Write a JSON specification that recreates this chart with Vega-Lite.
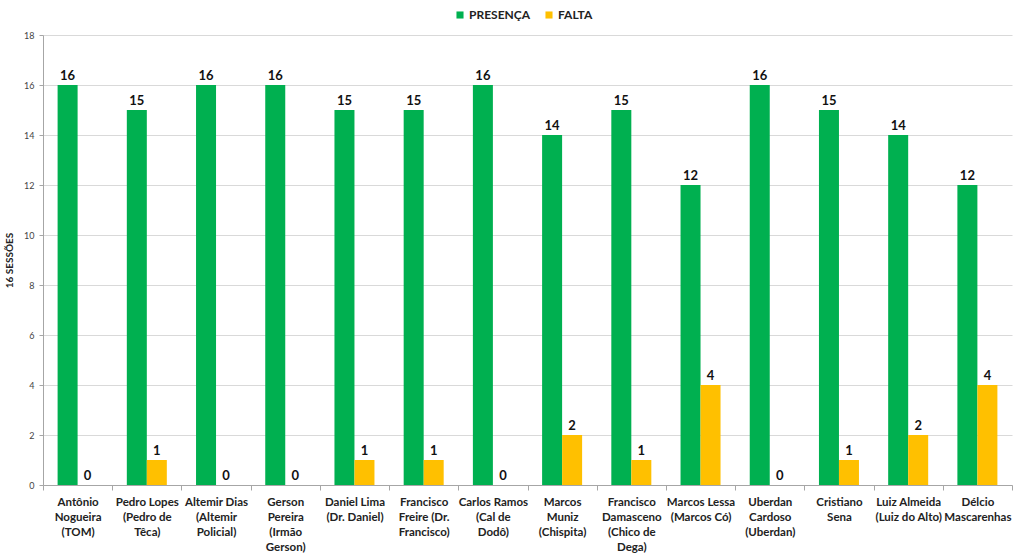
{
  "$schema": "https://vega.github.io/schema/vega-lite/v6.json",
  "width": 969,
  "height": 450,
  "autosize": {"type": "none"},
  "padding": {"left": 43, "top": 35, "right": 11, "bottom": 75},
  "background": "white",
  "config": {
    "view": {"stroke": null},
    "font": "Lato"
  },
  "data": {
    "values": [
      {"nome": "Antônio|Nogueira|(TOM)", "tipo": "PRESENÇA", "valor": 16},
      {"nome": "Antônio|Nogueira|(TOM)", "tipo": "FALTA", "valor": 0},
      {"nome": "Pedro Lopes|(Pedro de|Têca)", "tipo": "PRESENÇA", "valor": 15},
      {"nome": "Pedro Lopes|(Pedro de|Têca)", "tipo": "FALTA", "valor": 1},
      {"nome": "Altemir Dias|(Altemir|Policial)", "tipo": "PRESENÇA", "valor": 16},
      {"nome": "Altemir Dias|(Altemir|Policial)", "tipo": "FALTA", "valor": 0},
      {"nome": "Gerson|Pereira|(Irmão|Gerson)", "tipo": "PRESENÇA", "valor": 16},
      {"nome": "Gerson|Pereira|(Irmão|Gerson)", "tipo": "FALTA", "valor": 0},
      {"nome": "Daniel Lima|(Dr. Daniel)", "tipo": "PRESENÇA", "valor": 15},
      {"nome": "Daniel Lima|(Dr. Daniel)", "tipo": "FALTA", "valor": 1},
      {"nome": "Francisco|Freire (Dr.|Francisco)", "tipo": "PRESENÇA", "valor": 15},
      {"nome": "Francisco|Freire (Dr.|Francisco)", "tipo": "FALTA", "valor": 1},
      {"nome": "Carlos Ramos|(Cal de|Dodô)", "tipo": "PRESENÇA", "valor": 16},
      {"nome": "Carlos Ramos|(Cal de|Dodô)", "tipo": "FALTA", "valor": 0},
      {"nome": "Marcos|Muniz|(Chispita)", "tipo": "PRESENÇA", "valor": 14},
      {"nome": "Marcos|Muniz|(Chispita)", "tipo": "FALTA", "valor": 2},
      {"nome": "Francisco|Damasceno|(Chico de|Dega)", "tipo": "PRESENÇA", "valor": 15},
      {"nome": "Francisco|Damasceno|(Chico de|Dega)", "tipo": "FALTA", "valor": 1},
      {"nome": "Marcos Lessa|(Marcos Có)", "tipo": "PRESENÇA", "valor": 12},
      {"nome": "Marcos Lessa|(Marcos Có)", "tipo": "FALTA", "valor": 4},
      {"nome": "Uberdan|Cardoso|(Uberdan)", "tipo": "PRESENÇA", "valor": 16},
      {"nome": "Uberdan|Cardoso|(Uberdan)", "tipo": "FALTA", "valor": 0},
      {"nome": "Cristiano|Sena", "tipo": "PRESENÇA", "valor": 15},
      {"nome": "Cristiano|Sena", "tipo": "FALTA", "valor": 1},
      {"nome": "Luiz Almeida|(Luiz do Alto)", "tipo": "PRESENÇA", "valor": 14},
      {"nome": "Luiz Almeida|(Luiz do Alto)", "tipo": "FALTA", "valor": 2},
      {"nome": "Délcio|Mascarenhas", "tipo": "PRESENÇA", "valor": 12},
      {"nome": "Délcio|Mascarenhas", "tipo": "FALTA", "valor": 4}
    ]
  },
  "encoding": {
    "x": {
      "field": "nome",
      "type": "nominal",
      "sort": null,
      "scale": {"paddingInner": 0, "paddingOuter": 0},
      "axis": {
        "title": null,
        "labelAngle": 0,
        "labelExpr": "datum.value ? split(datum.value, '|') : ''",
        "labelFont": "Lato",
        "labelFontWeight": "bold",
        "labelFontSize": 11.5,
        "labelColor": "#222222",
        "labelLineHeight": 15,
        "labelPadding": 6,
        "labelBaseline": "top",
        "labelOverlap": false,
        "labelBound": false,
        "tickBand": "extent",
        "tickSize": 5,
        "tickColor": "#a6a6a6",
        "domainColor": "#a6a6a6",
        "grid": false
      }
    },
    "xOffset": {
      "field": "tipo",
      "type": "nominal",
      "sort": ["PRESENÇA", "FALTA"],
      "scale": {"paddingInner": 0, "paddingOuter": 0.73}
    },
    "y": {
      "field": "valor",
      "type": "quantitative",
      "scale": {"domain": [0, 18], "nice": false},
      "axis": {
        "title": "16 SESSÕES",
        "titleFont": "Lato",
        "titleFontSize": 10,
        "titleFontWeight": "bold",
        "titleColor": "#222222",
        "titlePadding": 9,
        "values": [0, 2, 4, 6, 8, 10, 12, 14, 16, 18],
        "labelFont": "Lato",
        "labelFontSize": 9,
        "labelColor": "#444444",
        "labelPadding": 5,
        "tickSize": 4,
        "tickColor": "#a6a6a6",
        "domainColor": "#a6a6a6",
        "gridColor": "#d9d9d9"
      }
    }
  },
  "layer": [
    {
      "mark": {"type": "bar"},
      "encoding": {
        "color": {
          "field": "tipo",
          "type": "nominal",
          "sort": ["PRESENÇA", "FALTA"],
          "scale": {"domain": ["PRESENÇA", "FALTA"], "range": ["#00B050", "#FFC000"]},
          "legend": {
            "title": null,
            "orient": "none",
            "direction": "horizontal",
            "legendX": 411,
            "legendY": -26,
            "symbolType": "square",
            "symbolSize": 50,
            "symbolStrokeWidth": 0,
            "labelFont": "Lato",
            "labelFontSize": 12,
            "labelFontWeight": "bold",
            "labelColor": "#222222",
            "columnPadding": 12,
            "labelOffset": 3
          }
        }
      }
    },
    {
      "mark": {"type": "text", "dy": -9, "fontWeight": "bold", "fontSize": 13, "font": "Lato", "color": "#111111"},
      "encoding": {
        "text": {"field": "valor", "type": "quantitative"}
      }
    }
  ]
}
